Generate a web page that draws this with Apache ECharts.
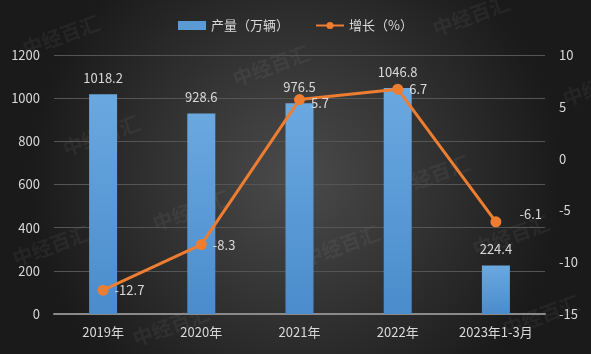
<!DOCTYPE html>
<html>
<head>
<meta charset="utf-8">
<script src="https://cdn.jsdelivr.net/npm/echarts@6/dist/echarts.min.js"></script>
<style>
  html, body { margin: 0; padding: 0; }
  #chart { width: 591px; height: 354px; }
</style>
</head>
<body>
<div id="chart"></div>
<script>
var categories = ['2019年', '2020年', '2021年', '2022年', '2023年1-3月'];
var output = [1018.2, 928.6, 976.5, 1046.8, 224.4];
var growth = [-12.7, -8.3, 5.7, 6.7, -6.1];

var chart = echarts.init(document.getElementById('chart'));
var labelColor = '#d9d9d9';
var font = '"Noto Sans CJK SC", "Noto Sans", sans-serif';

// faint watermarks
var marks = [[20, 40], [230, 70], [430, 20], [560, 90], [60, 140], [150, 215], [390, 180], [300, 250], [470, 240], [10, 250], [130, 330], [500, 320]];
var graphics = marks.map(function (p) {
  return {
    type: 'text',
    x: p[0],
    y: p[1],
    rotation: Math.PI / 9,
    style: {
      text: '中经百汇',
      fill: 'rgba(255,255,255,0.05)',
      font: 'bold 20px ' + font
    },
    silent: true
  };
});

function plain(v) {
  return String(v);
}

var option = {
  backgroundColor: {
    type: 'radial',
    x: 0.5,
    y: 0.5,
    r: 0.75,
    colorStops: [
      { offset: 0, color: '#4b4b4b' },
      { offset: 1, color: '#1a1a1a' }
    ]
  },
  textStyle: { fontFamily: font },
  graphic: graphics,
  legend: {
    top: 14,
    left: 'center',
    itemGap: 26,
    textStyle: { color: labelColor, fontSize: 13 },
    data: [
      { name: '产量（万辆）', icon: 'rect', itemStyle: { color: '#5b9bd5' } },
      { name: '增长（%）' }
    ],
    itemWidth: 28,
    itemHeight: 9
  },
  grid: { left: 54, right: 46, top: 55, bottom: 40 },
  xAxis: {
    type: 'category',
    data: categories,
    axisLine: { lineStyle: { color: '#8a8a8a', width: 2 } },
    axisTick: { show: false },
    axisLabel: { color: labelColor, fontSize: 13, margin: 12 }
  },
  yAxis: [{
    type: 'value',
    min: 0,
    max: 1200,
    interval: 200,
    axisLine: { show: false },
    axisTick: { show: false },
    axisLabel: { color: labelColor, fontSize: 13, margin: 14, formatter: plain },
    splitLine: { lineStyle: { color: '#555555', width: 1 } }
  }, {
    type: 'value',
    min: -15,
    max: 10,
    interval: 5,
    axisLine: { show: false },
    axisTick: { show: false },
    axisLabel: { color: labelColor, fontSize: 13, margin: 14, formatter: plain },
    splitLine: { show: false }
  }],
  series: [{
    name: '产量（万辆）',
    type: 'bar',
    data: output,
    barWidth: 28,
    itemStyle: {
      color: {
        type: 'linear', x: 0, y: 0, x2: 0, y2: 1,
        colorStops: [
          { offset: 0, color: '#6aa8e0' },
          { offset: 1, color: '#4a8ccc' }
        ]
      }
    },
    label: {
      show: true,
      position: 'top',
      distance: 10,
      color: labelColor,
      fontSize: 13
    }
  }, {
    name: '增长（%）',
    type: 'line',
    yAxisIndex: 1,
    data: growth,
    symbol: 'circle',
    symbolSize: 11,
    itemStyle: { color: '#ed7d31' },
    lineStyle: { color: '#ed7d31', width: 3 },
    label: {
      show: true,
      position: 'right',
      distance: 6,
      color: labelColor,
      fontSize: 13
    }
  }]
};
option.series[1].data = growth.map(function (v, i) {
  if (i === 2) return { value: v, label: { offset: [0, 4] } };
  if (i === 4) return { value: v, label: { offset: [12, -8] } };
  return v;
});
chart.setOption(option);
</script>
</body>
</html>
